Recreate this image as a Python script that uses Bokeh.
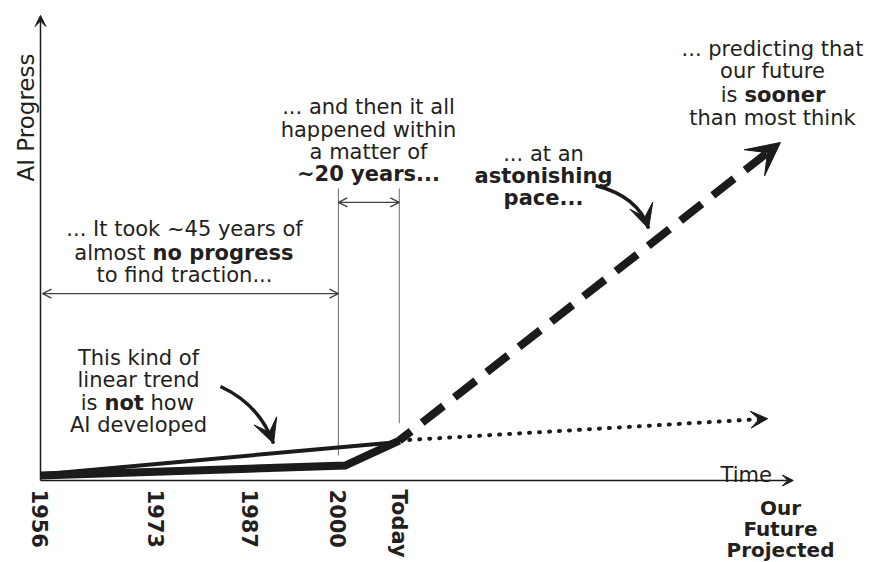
import math
from bokeh.plotting import figure
from bokeh.models import Range1d, Arrow, VeeHead, OpenHead, ColumnDataSource
from bokeh.core.properties import value
from bokeh.embed import file_html
from bokeh.resources import INLINE

# ---------------- data ----------------
years_actual = [1956, 2001, 2009]
progress_actual = [1.1, 3.2, 8.6]

years_linear_trend = [1956, 2009]
progress_linear_trend = [1.3, 8.3]

years_projected = [2009, 2065.3]
progress_projected = [8.6, 72.7]

years_linear_projection = [2009, 2063.4]
progress_linear_projection = [8.6, 13.3]

tick_years = [1956, 1973, 1987, 2000, 2009]
tick_labels = ["1956", "1973", "1987", "2000", "Today"]

future_year = 2065.3
future_label_lines = ["Our", "Future", "Projected"]

x_axis_label = "Time"
y_axis_label = "AI Progress"

# ---------------- figure ----------------
FONT = value("DejaVu Sans")
INK = "#1c1a1b"
TXT = "#231f20"
GUIDE = "#6d6e71"

p = figure(width=871, height=562,
           x_range=Range1d(1950.092, 2078.748),
           y_range=Range1d(-17.634, 103.226),
           x_axis_location=None, y_axis_location=None,
           toolbar_location=None, output_backend="svg",
           min_border=0)
p.grid.visible = False
p.outline_line_color = None
p.background_fill_color = "white"
p.border_fill_color = "white"

# axes (drawn as arrows)
p.add_layout(Arrow(x_start=tick_years[0], y_start=0, x_end=tick_years[0], y_end=100,
                   line_color=INK, line_width=1.5,
                   end=VeeHead(size=11, fill_color=INK, line_color=INK)))
p.add_layout(Arrow(x_start=tick_years[0], y_start=0, x_end=2067.2, y_end=0,
                   line_color=INK, line_width=1.5,
                   end=VeeHead(size=11, fill_color=INK, line_color=INK)))

# guide verticals
p.segment(x0=[tick_years[3], tick_years[4]], y0=[5.4, 12.3],
          x1=[tick_years[3], tick_years[4]], y1=[62.8, 62.8],
          line_color=GUIDE, line_width=1)

# measurement arrows
p.add_layout(Arrow(x_start=tick_years[0] + 0.3, y_start=40.2, x_end=tick_years[3], y_end=40.2,
                   line_color="#414042", line_width=1.3,
                   start=OpenHead(size=9, line_width=1.3, line_color="#414042"),
                   end=OpenHead(size=9, line_width=1.3, line_color="#414042")))
p.add_layout(Arrow(x_start=tick_years[3], y_start=59.8, x_end=tick_years[4], y_end=59.8,
                   line_color="#414042", line_width=1.3,
                   start=OpenHead(size=9, line_width=1.3, line_color="#414042"),
                   end=OpenHead(size=9, line_width=1.3, line_color="#414042")))

# data lines
p.line(years_linear_trend, progress_linear_trend, line_color=INK, line_width=4)
p.line(years_actual, progress_actual, line_color=INK, line_width=8,
       line_join="miter", line_cap="butt")

p.add_layout(Arrow(x_start=years_projected[0], y_start=progress_projected[0],
                   x_end=years_projected[1], y_end=progress_projected[1],
                   line_color=INK, line_width=8, line_dash="27 14", line_dash_offset=12,
                   end=VeeHead(size=33, fill_color=INK, line_color=INK)))
p.add_layout(Arrow(x_start=years_linear_projection[0], y_start=progress_linear_projection[0],
                   x_end=years_linear_projection[1], y_end=progress_linear_projection[1],
                   line_color=INK, line_width=4, line_dash="1 9", line_cap="round",
                   end=VeeHead(size=17, fill_color=INK, line_color=INK)))

# curved pointer arrows
curves = dict(x0=[1982.59, 2037.98], y0=[20.22, 63.44],
              cx=[1988.35, 2044.33], cy=[16.34, 61.08],
              x1=[1990.42, 2045.81], y1=[7.96, 54.19])
p.quadratic(x0="x0", y0="y0", x1="x1", y1="y1", cx="cx", cy="cy",
            source=ColumnDataSource(curves), line_color=INK, line_width=3.5)
for i in range(2):
    p.add_layout(Arrow(x_start=curves["cx"][i], y_start=curves["cy"][i],
                       x_end=curves["x1"][i], y_end=curves["y1"][i],
                       line_alpha=0,
                       end=VeeHead(size=24, fill_color=INK, line_color=INK)))

# ---------------- texts ----------------
def txt(xs, ys, texts, align="center", bold=False, size="21px", angle=0, baseline="alphabetic"):
    p.text(x=xs, y=ys, text=texts, angle=angle,
           text_font=FONT, text_font_size=value(size),
           text_font_style="bold" if bold else "normal",
           text_color=TXT, text_align=align, text_baseline=baseline)

# tick labels (rotated, reading downward)
txt(tick_years, [-1.94] * len(tick_years), tick_labels, align="left", bold=True,
    size="21px", angle=-math.pi / 2, baseline="middle")
# future label
txt([future_year] * 3, [-6.02, -10.43, -14.84], future_label_lines, bold=True, size="20px")
# axis titles
txt([2056.44], [1.08], [x_axis_label], align="left")
txt([1953.93], [78.06], [y_axis_label], angle=math.pi / 2, size="23px")

# block 1
txt([2064.12, 2064.12, 2064.12], [92.90, 87.96, 78.06],
    ["... predicting that", "our future", "than most think"])
txt([2058.95], [83.01], ["is"], align="right")
txt([2059.99], [83.01], ["sooner"], align="left", bold=True)

# block 2
txt([2004.45] * 3, [80.43, 75.48, 70.75],
    ["... and then it all", "happened within", "a matter of"])
txt([2004.45], [65.81], ["~20 years..."], bold=True)

# block 3
txt([2030.30], [70.32], ["... at an"])
txt([2030.30, 2030.30], [65.59, 60.86], ["astonishing", "pace..."], bold=True)

# block 4
txt([1977.27, 1977.27], [54.19, 44.09], ["... It took ~45 years of", "to find traction..."])
txt([1971.51], [49.03], ["almost"], align="right")
txt([1972.54], [49.03], ["no progress"], align="left", bold=True)

# block 5
txt([1970.48, 1970.48, 1970.48], [26.45, 21.51, 11.83],
    ["This kind of", "linear trend", "AI developed"])
txt([1964.42], [16.56], ["is"], align="right")
txt([1965.45], [16.56], ["not"], align="left", bold=True)
txt([1972.25], [16.56], ["how"], align="left")

open("out.html", "w").write(file_html(p, INLINE))
